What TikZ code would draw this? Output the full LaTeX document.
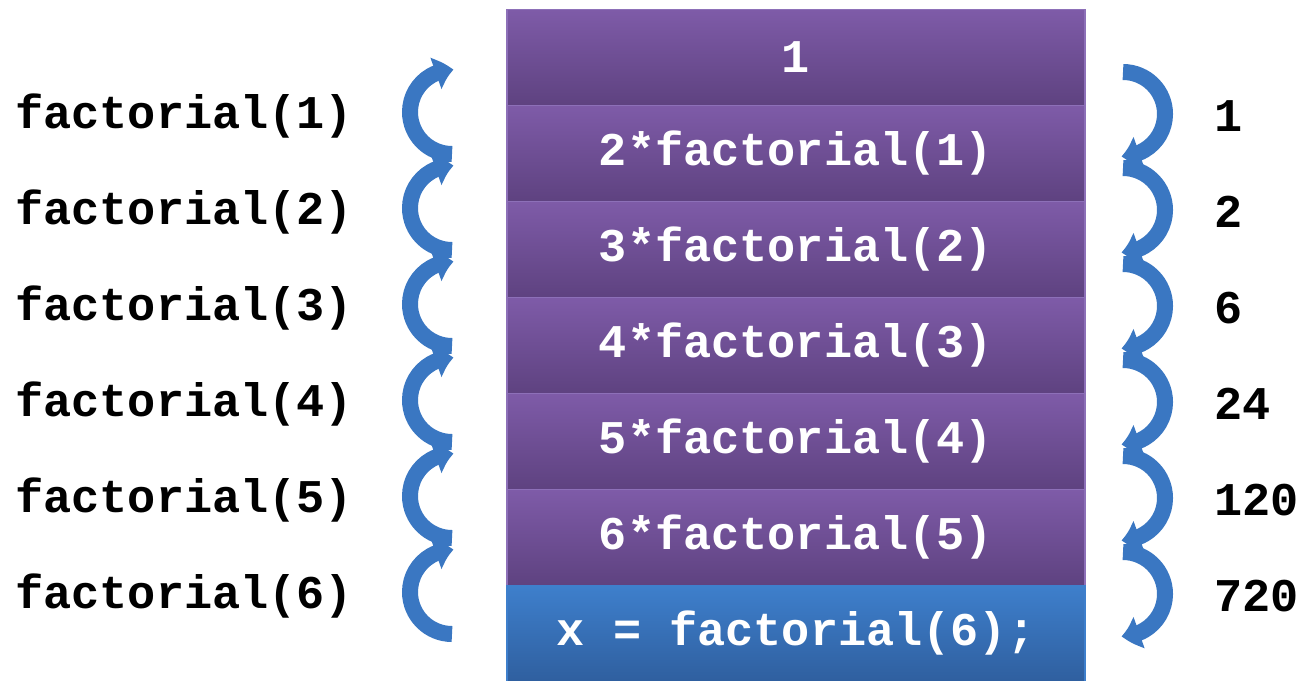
\documentclass[tikz,border=0pt]{standalone}
\usepackage{fontspec}
\newfontfamily\codefont{Liberation Mono}
\usetikzlibrary{arrows.meta, bending}
\definecolor{stacktop}{HTML}{7E5BA8}
\definecolor{stackbot}{HTML}{5E4280}
\definecolor{stackline}{HTML}{8D70B8}
\definecolor{calltop}{HTML}{3E7FCC}
\definecolor{callbot}{HTML}{2F5F9F}
\definecolor{arrowblue}{HTML}{3A77C2}
\begin{document}
\begin{tikzpicture}[
  x=0.02cm, y=-0.02cm,
  frame/.style={minimum width=11.56cm, minimum height=1.92cm, inner sep=0pt,
                top color=stacktop, bottom color=stackbot, draw=stackline,
                line width=0.03cm, text=white, font=\codefont\bfseries\fontsize{26.7}{30}\selectfont},
  callframe/.style={frame, top color=calltop, bottom color=callbot, draw=calltop},
  lbl/.style={anchor=west, inner sep=0pt, font=\codefont\bfseries\fontsize{26.7}{30}\selectfont},
  bendarr/.style={draw=arrowblue, line width=0.32cm,
                  -{Triangle[width=0.64cm, length=0.36cm, bend]}}
]
  \clip (0,0) rectangle (1304,680);
  % Pile des appels
  \foreach \j/\t in {0/1, 1/2*factorial(1), 2/3*factorial(2), 3/4*factorial(3),
                     4/5*factorial(4), 5/6*factorial(5)}
    \node[frame] (b\j) at (796, {57.5+96*\j}) {\raisebox{-2.5pt}{\t}};
  \node[callframe] (b6) at (796, 633.5) {\raisebox{-2.5pt}{x = factorial(6);}};

  % Appels a gauche, resultats a droite
  \foreach \k/\v in {1/1, 2/2, 3/6, 4/24, 5/120, 6/720} {
    \node[lbl] (l\k) at (15, {116+96*(\k-1)}) {factorial(\k)};
    \node[lbl] (r\k) at (1214, {116+96*(\k-1)}) {\v};
    \coordinate (la\k) at (452, {154+96*(\k-1)});
    \coordinate (ra\k) at (1123, {72+96*(\k-1)});
    \draw[bendarr] (la\k) arc[start angle=90, end angle=272, radius=42];
    \draw[bendarr] (ra\k) arc[start angle=270, end angle=452, radius=42];
  }
\end{tikzpicture}
\end{document}
